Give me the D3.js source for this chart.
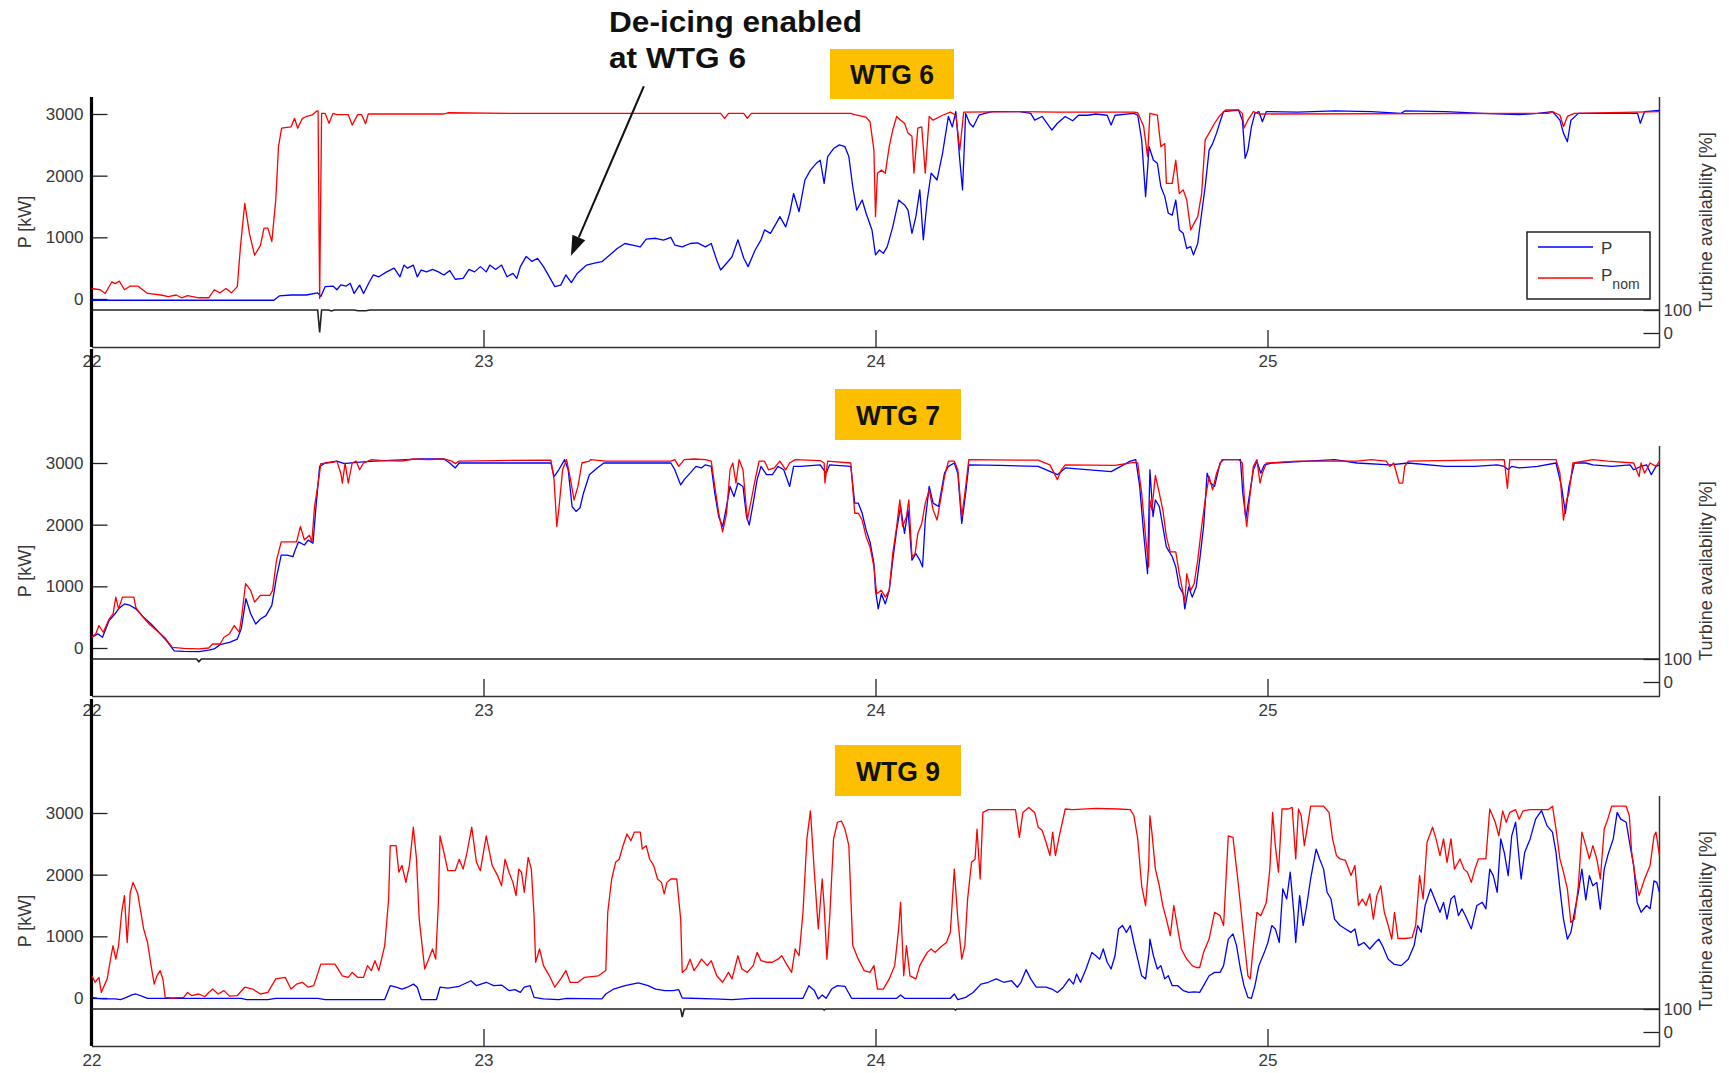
<!DOCTYPE html>
<html>
<head>
<meta charset="utf-8">
<script src="https://cdn.jsdelivr.net/npm/d3@7"></script>
<style>
  html, body { margin: 0; padding: 0; background: #fff; }
  svg { display: block; font-family: "Liberation Sans", Arial, sans-serif; }
</style>
</head>
<body>
<svg id="chart"></svg>
<script>
// tick labels / categories
const dayTicks = [22, 23, 24, 25];
const powerTicks = [0, 1000, 2000, 3000];
const availTicks = [0, 100];
const titles = ["WTG 6", "WTG 7", "WTG 9"];

// ---------- WTG 6 : [day, kW] ----------
const wtg6P = [[22.000,-20],[22.465,-20],[22.479,50],[22.509,65],[22.548,65],[22.577,100],[22.585,40],[22.596,200],[22.616,210],[22.626,150],[22.636,230],[22.650,210],[22.660,255],[22.670,90],[22.684,225],[22.694,90],[22.709,280],[22.719,390],[22.733,360],[22.753,440],[22.772,500],[22.787,360],[22.797,550],[22.806,500],[22.821,550],[22.831,360],[22.841,470],[22.855,440],[22.870,480],[22.885,440],[22.899,390],[22.914,460],[22.928,320],[22.948,335],[22.963,480],[22.977,440],[22.992,525],[23.007,440],[23.016,550],[23.031,480],[23.046,550],[23.060,360],[23.075,415],[23.085,335],[23.094,525],[23.109,690],[23.124,610],[23.138,660],[23.153,525],[23.168,360],[23.182,200],[23.197,225],[23.210,390],[23.224,265],[23.239,415],[23.263,550],[23.283,580],[23.302,605],[23.322,715],[23.341,820],[23.361,900],[23.380,875],[23.400,845],[23.415,970],[23.439,985],[23.459,955],[23.478,1000],[23.488,875],[23.507,845],[23.527,900],[23.546,910],[23.566,845],[23.581,900],[23.595,630],[23.605,470],[23.620,580],[23.634,685],[23.649,960],[23.664,660],[23.675,525],[23.693,795],[23.708,960],[23.717,1120],[23.732,1065],[23.747,1230],[23.756,1335],[23.771,1170],[23.781,1390],[23.791,1710],[23.805,1415],[23.820,1930],[23.834,2090],[23.849,2200],[23.859,2250],[23.869,1875],[23.878,2310],[23.893,2440],[23.908,2500],[23.922,2470],[23.932,2310],[23.942,1820],[23.952,1440],[23.966,1605],[23.976,1390],[23.991,1120],[24.000,715],[24.010,795],[24.020,740],[24.030,850],[24.044,1170],[24.059,1605],[24.074,1525],[24.083,1440],[24.093,1065],[24.103,1335],[24.113,1770],[24.122,960],[24.132,1605],[24.142,2040],[24.157,1930],[24.171,2360],[24.186,2960],[24.196,2790],[24.205,3040],[24.215,2250],[24.222,1770],[24.230,3010],[24.240,2850],[24.249,2790],[24.264,2980],[24.279,3010],[24.298,3040],[24.367,3040],[24.396,3010],[24.406,2900],[24.425,2960],[24.450,2740],[24.464,2850],[24.484,2960],[24.503,2890],[24.518,2980],[24.542,2980],[24.562,3000],[24.591,2980],[24.601,2820],[24.611,2980],[24.659,3010],[24.669,2980],[24.679,2580],[24.689,1660],[24.698,2470],[24.709,2250],[24.719,2200],[24.728,1820],[24.738,1660],[24.747,1390],[24.757,1360],[24.766,1605],[24.775,1120],[24.785,1065],[24.794,820],[24.804,850],[24.811,715],[24.822,900],[24.832,1390],[24.841,1820],[24.851,2415],[24.860,2520],[24.870,2690],[24.879,2875],[24.888,3040],[24.926,3065],[24.936,2900],[24.943,2280],[24.950,2415],[24.959,2790],[24.968,3010],[24.978,3040],[24.987,2875],[24.997,3040],[25.077,3030],[25.171,3050],[25.265,3040],[25.341,3010],[25.350,3050],[25.454,3040],[25.548,3010],[25.642,2990],[25.689,3010],[25.727,3040],[25.746,2900],[25.755,2690],[25.765,2550],[25.774,2900],[25.793,3010],[25.944,3010],[25.951,2850],[25.962,3040],[26.000,3060]];
const wtg6Pnom = [[22.000,170],[22.022,150],[22.035,90],[22.052,280],[22.060,250],[22.071,290],[22.084,150],[22.099,210],[22.118,210],[22.143,90],[22.177,65],[22.196,40],[22.216,65],[22.230,20],[22.245,55],[22.274,20],[22.299,20],[22.313,150],[22.328,100],[22.343,170],[22.357,100],[22.372,200],[22.380,850],[22.391,1550],[22.403,1060],[22.416,710],[22.431,870],[22.440,1150],[22.450,1150],[22.460,930],[22.470,1600],[22.477,2470],[22.485,2770],[22.509,2790],[22.518,2930],[22.526,2770],[22.538,2930],[22.548,2960],[22.562,2980],[22.575,3050],[22.578,3050],[22.582,10],[22.587,3010],[22.596,3010],[22.606,2850],[22.616,3010],[22.626,2990],[22.655,2990],[22.665,2820],[22.679,2990],[22.689,2990],[22.699,2840],[22.706,3000],[22.899,3000],[22.909,3020],[23.085,3010],[23.163,3010],[23.605,3010],[23.615,2930],[23.625,3010],[23.664,3010],[23.673,2930],[23.683,3010],[23.937,3010],[23.947,2990],[23.976,2950],[23.986,2875],[23.996,2415],[24.000,1335],[24.005,2040],[24.015,2090],[24.025,2040],[24.035,2470],[24.044,2740],[24.054,2960],[24.064,2900],[24.074,2850],[24.083,2690],[24.093,2640],[24.098,2040],[24.108,2770],[24.118,2790],[24.127,2040],[24.137,2960],[24.147,2900],[24.171,2980],[24.191,3030],[24.205,2980],[24.215,2415],[24.225,3030],[24.367,3040],[24.464,3030],[24.562,3030],[24.659,3030],[24.669,3020],[24.684,2800],[24.694,2310],[24.700,3010],[24.719,2980],[24.728,2470],[24.738,2520],[24.742,1875],[24.757,1875],[24.766,2250],[24.775,1710],[24.785,1770],[24.794,1605],[24.804,1120],[24.813,1230],[24.822,1335],[24.832,1710],[24.841,2580],[24.851,2690],[24.865,2850],[24.879,2980],[24.893,3065],[24.926,3065],[24.936,3010],[24.940,2770],[24.950,2900],[24.964,3040],[24.978,3000],[25.717,3010],[25.727,3040],[25.746,2980],[25.755,2795],[25.765,2960],[25.783,3010],[26.000,3040]];
const wtg6Avail = [[22.000,100],[22.577,100],[22.582,3],[22.587,100],[22.605,100],[22.612,96],[22.619,100],[22.670,100],[22.680,97],[22.700,97],[22.710,100],[26.000,100]];

// ---------- WTG 7 ----------
const wtg7P = [[22.001,175],[22.016,230],[22.028,175],[22.045,445],[22.060,555],[22.069,635],[22.084,715],[22.099,690],[22.113,635],[22.133,500],[22.152,390],[22.172,255],[22.191,120],[22.211,-45],[22.235,-55],[22.274,-60],[22.299,-35],[22.313,-15],[22.328,55],[22.352,90],[22.372,145],[22.382,310],[22.394,800],[22.406,555],[22.419,390],[22.431,470],[22.445,525],[22.460,690],[22.472,1150],[22.484,1505],[22.499,1505],[22.514,1480],[22.518,1560],[22.528,1720],[22.543,1670],[22.553,1750],[22.565,1700],[22.572,2240],[22.582,2945],[22.596,3000],[22.626,3030],[22.645,2990],[22.675,3010],[22.723,3030],[22.802,3055],[22.841,3065],[22.899,3065],[22.914,3000],[22.928,2920],[22.938,3000],[23.036,3000],[23.172,3000],[23.180,2780],[23.192,2890],[23.207,3055],[23.216,2890],[23.226,2295],[23.236,2215],[23.246,2270],[23.255,2510],[23.270,2810],[23.290,2920],[23.307,3000],[23.390,3000],[23.478,3000],[23.488,2890],[23.503,2645],[23.512,2730],[23.527,2835],[23.542,2945],[23.556,2920],[23.566,2970],[23.581,2945],[23.590,2510],[23.600,2130],[23.610,1970],[23.620,2295],[23.629,2620],[23.639,2455],[23.649,2675],[23.662,2620],[23.671,2130],[23.678,1995],[23.688,2350],[23.698,2730],[23.708,2945],[23.722,2810],[23.737,2810],[23.751,2945],[23.766,2890],[23.781,2620],[23.791,2945],[23.810,2945],[23.859,2970],[23.874,2835],[23.883,2970],[23.937,2945],[23.947,2350],[23.956,2350],[23.966,2185],[23.976,1915],[23.986,1720],[23.996,1370],[24.000,935],[24.007,635],[24.015,880],[24.025,715],[24.035,935],[24.044,1425],[24.054,1915],[24.064,2295],[24.074,1860],[24.083,2240],[24.093,1425],[24.103,1530],[24.113,1425],[24.120,1315],[24.127,2075],[24.137,2620],[24.147,2350],[24.161,2295],[24.176,2835],[24.186,2945],[24.201,3000],[24.210,2835],[24.220,2020],[24.230,2510],[24.238,2970],[24.318,2960],[24.415,2945],[24.464,2810],[24.484,2920],[24.601,2860],[24.621,2930],[24.650,3030],[24.664,3055],[24.674,2620],[24.684,1860],[24.694,1205],[24.700,2890],[24.708,2130],[24.714,2400],[24.724,2295],[24.733,1970],[24.742,1640],[24.757,1480],[24.766,1315],[24.775,990],[24.785,880],[24.789,635],[24.799,990],[24.808,825],[24.818,990],[24.827,1425],[24.837,1970],[24.846,2835],[24.855,2675],[24.865,2620],[24.879,3000],[24.888,3055],[24.931,3055],[24.937,2510],[24.945,2100],[24.952,2400],[24.964,2890],[24.973,3030],[24.983,2835],[24.992,2970],[25.011,3000],[25.105,3030],[25.171,3055],[25.228,3000],[25.312,2970],[25.359,3000],[25.454,2945],[25.529,2945],[25.586,2970],[25.604,2945],[25.614,2890],[25.623,2945],[25.642,2920],[25.689,2945],[25.736,3000],[25.750,2620],[25.760,2185],[25.769,2620],[25.783,3000],[25.812,3000],[25.830,2970],[25.878,2945],[25.925,2970],[25.934,2890],[25.953,2945],[25.967,2970],[25.979,2810],[25.991,2945],[26.000,2970]];
const wtg7Pnom = [[22.001,175],[22.011,230],[22.019,365],[22.030,255],[22.045,470],[22.055,555],[22.062,825],[22.069,635],[22.079,825],[22.108,825],[22.113,660],[22.128,525],[22.147,390],[22.167,280],[22.186,175],[22.206,10],[22.235,-5],[22.274,-15],[22.299,0],[22.309,65],[22.328,65],[22.338,175],[22.352,230],[22.364,365],[22.377,255],[22.384,555],[22.393,1045],[22.406,935],[22.416,745],[22.431,855],[22.455,855],[22.462,935],[22.472,1425],[22.484,1720],[22.509,1720],[22.523,1720],[22.533,1970],[22.543,1755],[22.556,1830],[22.562,1720],[22.569,2295],[22.577,2620],[22.585,2990],[22.616,3010],[22.626,3030],[22.636,2835],[22.640,2675],[22.647,3000],[22.655,2675],[22.665,3000],[22.675,3030],[22.684,2890],[22.694,3000],[22.714,3055],[22.743,3040],[22.792,3030],[22.821,3065],[22.860,3055],[22.899,3065],[22.919,3030],[22.928,2990],[22.938,3030],[23.036,3040],[23.172,3045],[23.180,2730],[23.187,1970],[23.192,2240],[23.202,2900],[23.212,3055],[23.222,2730],[23.231,2400],[23.241,2620],[23.251,3000],[23.270,3030],[23.273,3055],[23.312,3030],[23.390,3030],[23.478,3030],[23.488,3055],[23.498,2945],[23.512,3055],[23.537,3065],[23.566,3055],[23.581,3030],[23.590,2620],[23.600,2185],[23.610,1885],[23.620,2185],[23.629,2890],[23.636,3000],[23.644,2675],[23.652,3055],[23.662,2890],[23.673,2075],[23.683,2400],[23.693,2730],[23.703,3030],[23.717,3030],[23.727,2890],[23.742,2920],[23.756,3030],[23.771,2890],[23.781,3000],[23.795,3055],[23.859,3040],[23.869,3000],[23.871,2675],[23.878,3030],[23.937,3000],[23.947,2185],[23.956,2185],[23.966,2075],[23.976,1805],[23.986,1640],[23.996,1315],[24.003,880],[24.015,935],[24.025,825],[24.035,935],[24.044,1530],[24.054,1970],[24.062,2400],[24.069,1970],[24.079,2130],[24.085,2400],[24.093,1480],[24.101,1530],[24.108,1860],[24.118,2020],[24.127,2350],[24.137,2565],[24.147,2240],[24.157,2075],[24.166,2400],[24.176,2780],[24.186,3030],[24.201,3030],[24.210,2890],[24.220,2130],[24.228,2510],[24.238,3055],[24.415,3045],[24.445,2970],[24.464,2730],[24.474,2890],[24.484,2970],[24.611,2960],[24.659,3010],[24.669,3000],[24.679,2510],[24.689,1805],[24.697,1315],[24.700,2400],[24.705,2240],[24.714,2800],[24.724,2510],[24.733,2240],[24.742,1805],[24.752,1560],[24.766,1560],[24.775,1205],[24.785,880],[24.789,745],[24.794,1205],[24.804,935],[24.813,1045],[24.822,1425],[24.832,1970],[24.841,2400],[24.851,2780],[24.860,2565],[24.870,2835],[24.884,3055],[24.926,3055],[24.936,3000],[24.943,2185],[24.947,1970],[24.954,2400],[24.964,2945],[24.973,3055],[24.981,2675],[24.987,2835],[24.997,3000],[25.077,3030],[25.228,3030],[25.265,3055],[25.303,3030],[25.312,2945],[25.322,3000],[25.336,2675],[25.345,2675],[25.350,2945],[25.359,3030],[25.604,3055],[25.612,2590],[25.618,3055],[25.736,3055],[25.746,2835],[25.755,2075],[25.763,2400],[25.769,2510],[25.779,3000],[25.830,3055],[25.868,3030],[25.934,3000],[25.948,2780],[25.953,3000],[25.962,2835],[25.976,3000],[25.991,2945],[26.000,3030]];
const wtg7Avail = [[22.000,100],[22.268,100],[22.274,88],[22.280,100],[26.000,100]];

// ---------- WTG 9 ----------
const wtg9P = [[22.001,10],[22.016,-5],[22.030,-15],[22.060,-15],[22.074,-25],[22.089,10],[22.103,50],[22.113,65],[22.128,30],[22.143,-5],[22.255,-5],[22.382,-5],[22.396,-25],[22.450,-25],[22.470,-5],[22.577,-5],[22.596,-25],[22.748,-25],[22.762,200],[22.777,175],[22.792,145],[22.806,175],[22.821,225],[22.831,175],[22.841,-25],[22.880,-25],[22.889,175],[22.909,160],[22.938,190],[22.968,280],[22.982,200],[23.007,255],[23.026,200],[23.046,210],[23.065,120],[23.080,135],[23.094,90],[23.104,175],[23.119,200],[23.129,10],[23.153,-15],[23.192,-25],[23.212,-5],[23.302,-15],[23.312,65],[23.332,145],[23.361,200],[23.395,245],[23.420,200],[23.439,145],[23.463,120],[23.483,120],[23.498,135],[23.507,0],[23.586,-15],[23.634,-25],[23.683,-5],[23.815,-5],[23.830,200],[23.844,120],[23.854,-15],[23.864,50],[23.874,-5],[23.888,145],[23.903,200],[23.922,190],[23.939,-5],[24.054,-5],[24.064,50],[24.074,-5],[24.191,-5],[24.201,65],[24.210,-25],[24.230,10],[24.249,90],[24.269,225],[24.288,255],[24.308,310],[24.327,255],[24.347,280],[24.362,175],[24.371,255],[24.384,460],[24.396,310],[24.410,175],[24.435,175],[24.450,145],[24.464,90],[24.479,175],[24.494,310],[24.505,225],[24.513,390],[24.523,255],[24.537,470],[24.552,740],[24.562,685],[24.572,630],[24.581,795],[24.591,580],[24.601,470],[24.611,685],[24.620,1120],[24.630,1175],[24.640,1065],[24.650,1175],[24.659,900],[24.669,630],[24.679,360],[24.689,310],[24.698,740],[24.700,955],[24.709,685],[24.719,470],[24.728,525],[24.738,310],[24.747,360],[24.757,200],[24.771,200],[24.785,120],[24.799,90],[24.813,100],[24.827,90],[24.837,200],[24.851,360],[24.865,415],[24.879,415],[24.888,525],[24.900,955],[24.912,1040],[24.921,850],[24.931,470],[24.940,200],[24.950,10],[24.959,-5],[24.968,200],[24.978,525],[24.992,740],[25.001,900],[25.011,1175],[25.020,1120],[25.030,900],[25.039,1770],[25.049,1605],[25.058,2040],[25.067,1390],[25.072,900],[25.082,1660],[25.091,1175],[25.100,1500],[25.110,1930],[25.124,2415],[25.133,2255],[25.143,2090],[25.152,1715],[25.162,1605],[25.171,1280],[25.185,1175],[25.199,1120],[25.213,1065],[25.223,1120],[25.232,850],[25.246,900],[25.261,795],[25.275,900],[25.284,955],[25.293,850],[25.308,630],[25.322,550],[25.341,525],[25.359,630],[25.374,850],[25.383,1175],[25.392,1065],[25.402,1500],[25.416,1770],[25.430,1550],[25.440,1390],[25.449,1550],[25.458,1280],[25.468,1605],[25.477,1660],[25.487,1335],[25.496,1445],[25.505,1335],[25.520,1120],[25.534,1500],[25.548,1550],[25.557,1445],[25.567,2090],[25.576,1985],[25.586,1715],[25.595,2580],[25.604,2360],[25.614,1985],[25.623,2630],[25.633,2850],[25.642,2255],[25.647,1930],[25.656,2360],[25.670,2580],[25.684,2900],[25.699,3040],[25.713,2795],[25.727,2690],[25.736,2360],[25.746,1770],[25.755,1280],[25.765,955],[25.774,1065],[25.783,1390],[25.793,1715],[25.802,2090],[25.812,1590],[25.821,1985],[25.830,1820],[25.840,1875],[25.849,1440],[25.859,2090],[25.868,2310],[25.882,2580],[25.892,3010],[25.901,2900],[25.915,2850],[25.925,2470],[25.934,2150],[25.943,1550],[25.953,1390],[25.967,1500],[25.976,1445],[25.986,1900],[25.993,1875],[26.000,1715]];
const wtg9Pnom = [[22.001,360],[22.009,255],[22.019,335],[22.025,90],[22.040,310],[22.050,685],[22.055,850],[22.062,630],[22.069,850],[22.077,1390],[22.084,1660],[22.091,900],[22.099,1715],[22.106,1875],[22.118,1690],[22.133,1120],[22.143,900],[22.152,525],[22.160,225],[22.167,360],[22.175,445],[22.182,310],[22.188,10],[22.206,0],[22.235,10],[22.245,90],[22.255,40],[22.274,65],[22.289,20],[22.299,90],[22.309,145],[22.323,65],[22.338,120],[22.352,30],[22.372,40],[22.391,175],[22.411,145],[22.431,65],[22.450,90],[22.470,310],[22.494,335],[22.509,145],[22.523,225],[22.538,255],[22.553,175],[22.567,200],[22.585,550],[22.621,550],[22.640,360],[22.655,335],[22.665,415],[22.679,335],[22.694,335],[22.704,525],[22.714,445],[22.723,605],[22.733,445],[22.748,850],[22.758,1605],[22.762,2470],[22.777,2470],[22.784,2040],[22.792,2150],[22.802,1875],[22.811,2150],[22.821,2770],[22.829,2260],[22.836,1280],[22.850,470],[22.860,630],[22.870,795],[22.878,630],[22.885,1550],[22.889,2630],[22.899,2360],[22.909,2065],[22.928,2065],[22.938,2250],[22.948,2090],[22.958,2360],[22.970,2770],[22.982,2200],[22.992,2065],[23.007,2630],[23.022,2150],[23.036,1985],[23.046,1820],[23.055,2250],[23.065,2040],[23.075,1875],[23.083,1660],[23.090,2090],[23.097,2040],[23.104,1715],[23.114,2280],[23.122,2090],[23.129,1335],[23.133,580],[23.143,795],[23.153,525],[23.168,360],[23.182,175],[23.197,310],[23.210,445],[23.221,255],[23.241,255],[23.258,335],[23.293,360],[23.312,445],[23.317,1390],[23.327,1930],[23.337,2200],[23.346,2250],[23.356,2470],[23.366,2660],[23.376,2550],[23.385,2690],[23.400,2690],[23.405,2415],[23.415,2470],[23.424,2250],[23.434,2150],[23.444,1930],[23.454,1875],[23.461,1690],[23.468,1875],[23.478,1930],[23.493,1930],[23.503,1280],[23.507,415],[23.517,470],[23.527,630],[23.537,445],[23.546,525],[23.556,630],[23.571,525],[23.581,605],[23.595,360],[23.610,255],[23.625,415],[23.634,310],[23.649,685],[23.659,470],[23.673,415],[23.688,525],[23.698,740],[23.708,605],[23.722,580],[23.737,580],[23.751,630],[23.761,685],[23.773,550],[23.786,415],[23.795,795],[23.805,685],[23.815,1390],[23.825,2580],[23.834,3035],[23.844,2040],[23.854,1120],[23.864,1930],[23.869,1500],[23.876,630],[23.883,1280],[23.893,2580],[23.903,2850],[23.913,2870],[23.922,2740],[23.932,2470],[23.942,850],[23.956,630],[23.971,445],[23.986,415],[23.996,525],[24.005,145],[24.020,145],[24.035,310],[24.049,525],[24.059,1120],[24.064,1550],[24.072,360],[24.079,850],[24.088,360],[24.103,310],[24.113,525],[24.122,630],[24.132,740],[24.142,795],[24.152,740],[24.161,795],[24.171,850],[24.181,900],[24.191,1065],[24.201,2090],[24.210,1280],[24.220,630],[24.228,850],[24.235,1605],[24.245,2200],[24.254,2250],[24.259,2740],[24.267,1930],[24.274,3010],[24.288,3055],[24.357,3055],[24.367,2605],[24.376,3010],[24.391,3090],[24.406,3010],[24.415,2770],[24.425,2720],[24.435,2525],[24.445,2310],[24.452,2690],[24.459,2310],[24.469,2630],[24.484,3065],[24.503,3055],[24.562,3075],[24.620,3065],[24.650,3055],[24.659,2960],[24.669,2580],[24.679,1820],[24.689,1500],[24.697,2150],[24.700,2955],[24.705,2690],[24.714,2090],[24.724,1820],[24.733,1495],[24.742,1280],[24.752,1010],[24.761,1500],[24.771,1120],[24.780,795],[24.794,630],[24.808,525],[24.818,495],[24.827,495],[24.837,740],[24.851,955],[24.865,1390],[24.879,1335],[24.888,1175],[24.900,2630],[24.912,2605],[24.926,1820],[24.940,955],[24.950,360],[24.956,310],[24.964,850],[24.973,1390],[24.983,1335],[24.997,1550],[25.006,2090],[25.013,3010],[25.020,2470],[25.028,2040],[25.037,3065],[25.053,3065],[25.063,3090],[25.072,2255],[25.079,3065],[25.086,2955],[25.094,2470],[25.105,2900],[25.110,3110],[25.143,3110],[25.157,3010],[25.166,2580],[25.176,2310],[25.185,2255],[25.199,2230],[25.213,1985],[25.223,2150],[25.232,1500],[25.242,1605],[25.251,1500],[25.261,1690],[25.270,1280],[25.279,1660],[25.289,1820],[25.298,1390],[25.308,1175],[25.317,955],[25.324,1390],[25.333,965],[25.350,965],[25.369,980],[25.378,1175],[25.388,1985],[25.397,1605],[25.407,2525],[25.421,2770],[25.430,2580],[25.440,2310],[25.449,2580],[25.458,2200],[25.468,2580],[25.477,2090],[25.491,2255],[25.501,2090],[25.510,2040],[25.520,1875],[25.529,2090],[25.538,2255],[25.557,2255],[25.567,3065],[25.581,2850],[25.590,2630],[25.600,3035],[25.609,2850],[25.618,3010],[25.633,3055],[25.642,2900],[25.652,3035],[25.670,3055],[25.717,3055],[25.727,3110],[25.736,2740],[25.746,2255],[25.755,2040],[25.765,1770],[25.774,1225],[25.783,1280],[25.793,1820],[25.802,2690],[25.812,2470],[25.821,2255],[25.830,2470],[25.840,2255],[25.849,1930],[25.859,2740],[25.868,2900],[25.878,3110],[25.915,3110],[25.923,2955],[25.929,2360],[25.939,1930],[25.948,1660],[25.962,1930],[25.976,2150],[25.986,2630],[25.991,2690],[26.000,2310]];
const wtg9Avail = [[22.000,100],[23.503,100],[23.507,65],[23.512,100],[23.866,100],[23.869,96],[23.872,100],[24.201,100],[24.204,96],[24.207,100],[26.000,100]];

// annotation arrow (day, kW in WTG 6 panel)
const arrowFrom = [23.409, 3450];
const arrowTo = [23.223, 700];

// ---------- layout ----------
const totalWidth = 1729;
const totalHeight = 1073;
const plotLeft = 91.5;
const plotRight = 1659.5;
const panelTops = [97, 446, 796];
const panelHeight = 250;
const titleBoxes = [
  { x: 830, y: 49, w: 124, h: 50 },
  { x: 835, y: 389, w: 126, h: 51 },
  { x: 835, y: 745, w: 126, h: 51 },
];
const labelColor = "#383838";

const panels = [
  { title: titles[0], p: wtg6P, pnom: wtg6Pnom, avail: wtg6Avail },
  { title: titles[1], p: wtg7P, pnom: wtg7Pnom, avail: wtg7Avail },
  { title: titles[2], p: wtg9P, pnom: wtg9Pnom, avail: wtg9Avail },
];

const xScale = d3.scaleLinear().domain([22, 26]).range([plotLeft, plotRight]);

const svg = d3
  .select("#chart")
  .attr("width", totalWidth)
  .attr("height", totalHeight);

svg.append("rect").attr("width", totalWidth).attr("height", totalHeight).attr("fill", "#fff");

const styleAxisText = (sel, size) => {
  sel.attr("font-family", null).attr("font-size", null);
  sel.selectAll("text").style("font-size", size + "px").style("fill", labelColor);
  sel.selectAll("line").attr("stroke", "#222").attr("stroke-width", 1.3);
};

panels.forEach((panel, i) => {
  const top = panelTops[i];
  const bottom = top + panelHeight;
  const midY = (top + bottom) / 2;

  const yPower = d3.scaleLinear().domain([0, 3000]).range([top + 202, top + 17]);
  const yAvail = d3.scaleLinear().domain([0, 100]).range([top + 236, top + 213]);

  const g = svg.append("g").attr("class", "panel-" + i);

  // bottom x axis
  const xAxisG = g
    .append("g")
    .attr("transform", `translate(0,${bottom})`)
    .call(
      d3.axisBottom(xScale)
        .tickValues(dayTicks)
        .tickSizeInner(-17)
        .tickSizeOuter(0)
        .tickPadding(8)
        .tickFormat(d3.format("d"))
    );
  styleAxisText(xAxisG, 17);
  xAxisG.select(".domain").attr("stroke", "#333").attr("stroke-width", 1.5);

  // left power axis
  const yAxisG = g
    .append("g")
    .attr("transform", `translate(${plotLeft},0)`)
    .call(
      d3.axisLeft(yPower)
        .tickValues(powerTicks)
        .tickSizeInner(-16)
        .tickSizeOuter(0)
        .tickPadding(8)
        .tickFormat(d3.format("d"))
    );
  yAxisG.select(".domain").remove();
  styleAxisText(yAxisG, 17);

  // right availability axis
  const aAxisG = g
    .append("g")
    .attr("transform", `translate(${plotRight},0)`)
    .call(
      d3.axisRight(yAvail)
        .tickValues(availTicks)
        .tickSizeInner(-16)
        .tickSizeOuter(0)
        .tickPadding(4)
    );
  aAxisG.select(".domain").remove();
  styleAxisText(aAxisG, 17);

  g.append("line")
    .attr("x1", plotRight).attr("x2", plotRight)
    .attr("y1", top).attr("y2", bottom)
    .attr("stroke", "#333").attr("stroke-width", 1.5);

  // thick left spine
  g.append("line")
    .attr("x1", plotLeft).attr("x2", plotLeft)
    .attr("y1", i === 0 ? top : top - 97)
    .attr("y2", bottom)
    .attr("stroke", "#000").attr("stroke-width", 3.2);

  // axis labels
  g.append("text")
    .attr("transform", `translate(25,${midY}) rotate(-90)`)
    .attr("text-anchor", "middle")
    .attr("dy", "0.35em")
    .style("font-size", "18px")
    .style("fill", labelColor)
    .text("P [kW]");
  g.append("text")
    .attr("transform", `translate(1706,${midY}) rotate(-90)`)
    .attr("text-anchor", "middle")
    .attr("dy", "0.35em")
    .style("font-size", "18px")
    .style("fill", labelColor)
    .text("Turbine availability [%]");

  // series
  const powerLine = d3.line().x((d) => xScale(d[0])).y((d) => yPower(d[1]));
  const availLine = d3.line().x((d) => xScale(d[0])).y((d) => yAvail(d[1]));

  g.append("path")
    .attr("d", availLine(panel.avail))
    .attr("fill", "none")
    .attr("stroke", "#222")
    .attr("stroke-width", 1.6);

  g.append("path")
    .attr("d", powerLine(panel.p))
    .attr("fill", "none")
    .attr("stroke", "#0000ff")
    .attr("stroke-width", 1.3)
    .attr("stroke-linejoin", "round");

  g.append("path")
    .attr("d", powerLine(panel.pnom))
    .attr("fill", "none")
    .attr("stroke", "#ff0000")
    .attr("stroke-width", 1.3)
    .attr("stroke-linejoin", "round");

  // title box
  const tb = titleBoxes[i];
  g.append("rect")
    .attr("x", tb.x).attr("y", tb.y)
    .attr("width", tb.w).attr("height", tb.h)
    .attr("fill", "#fcc000");
  g.append("text")
    .attr("x", tb.x + tb.w / 2)
    .attr("y", tb.y + tb.h / 2)
    .attr("dy", "0.36em")
    .attr("text-anchor", "middle")
    .attr("textLength", 84)
    .attr("lengthAdjust", "spacingAndGlyphs")
    .style("font-size", "28px")
    .style("font-weight", "bold")
    .style("fill", "#111")
    .text(panel.title);

  // legend + annotation only in the first panel
  if (i === 0) {
    const lg = g.append("g").attr("transform", "translate(1527,232)");
    lg.append("rect")
      .attr("width", 123).attr("height", 67)
      .attr("fill", "#fff").attr("stroke", "#111").attr("stroke-width", 1.4);
    lg.append("line").attr("x1", 11).attr("x2", 66).attr("y1", 15).attr("y2", 15)
      .attr("stroke", "#0000ff").attr("stroke-width", 1.3);
    lg.append("line").attr("x1", 11).attr("x2", 66).attr("y1", 46).attr("y2", 46)
      .attr("stroke", "#ff0000").attr("stroke-width", 1.3);
    lg.append("text").attr("x", 74).attr("y", 22)
      .style("font-size", "17px").style("fill", labelColor).text("P");
    const t2 = lg.append("text").attr("x", 74).attr("y", 49)
      .style("font-size", "17px").style("fill", labelColor);
    t2.append("tspan").text("P");
    t2.append("tspan").attr("dy", 8).style("font-size", "14px").text("nom");

    // annotation
    const ann = svg.append("g");
    ann.append("text").attr("x", 609).attr("y", 32)
      .attr("textLength", 253).attr("lengthAdjust", "spacingAndGlyphs")
      .style("font-size", "29px").style("font-weight", "bold").style("fill", "#111")
      .text("De-icing enabled");
    ann.append("text").attr("x", 609).attr("y", 68)
      .attr("textLength", 137).attr("lengthAdjust", "spacingAndGlyphs")
      .style("font-size", "29px").style("font-weight", "bold").style("fill", "#111")
      .text("at WTG 6");

    const x1 = xScale(arrowFrom[0]), y1 = yPower(arrowFrom[1]);
    const x2 = xScale(arrowTo[0]), y2 = yPower(arrowTo[1]);
    const ang = Math.atan2(y2 - y1, x2 - x1);
    const headLen = 20, headW = 7;
    const bx = x2 - headLen * Math.cos(ang), by = y2 - headLen * Math.sin(ang);
    ann.append("line")
      .attr("x1", x1).attr("y1", y1).attr("x2", bx).attr("y2", by)
      .attr("stroke", "#111").attr("stroke-width", 2);
    ann.append("path")
      .attr("d", d3.line()([
        [x2, y2],
        [bx + headW * Math.sin(ang), by - headW * Math.cos(ang)],
        [bx - headW * Math.sin(ang), by + headW * Math.cos(ang)],
      ]) + "Z")
      .attr("fill", "#111");
  }
});
</script>
</body>
</html>
